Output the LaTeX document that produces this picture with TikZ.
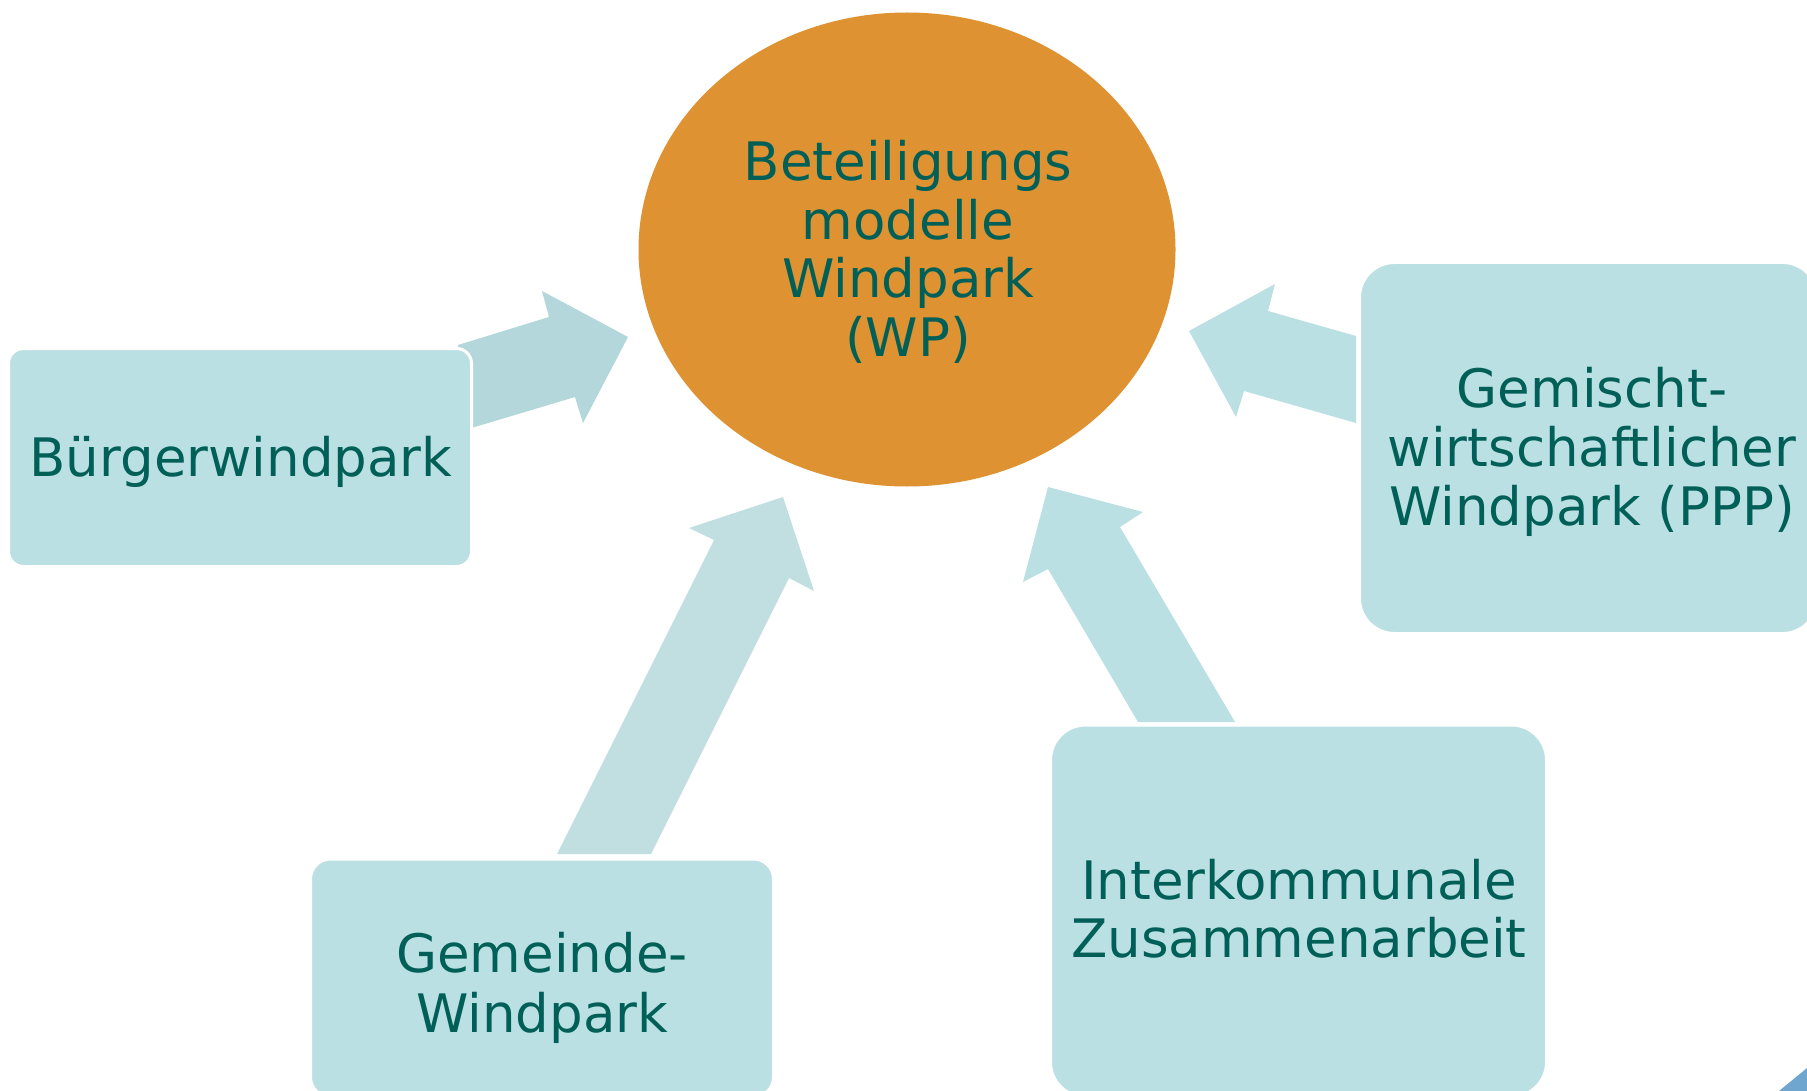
\documentclass[tikz,border=0pt]{standalone}
\usepackage{fontspec}
\setmainfont{DejaVu Sans}
\usetikzlibrary{shapes.geometric}
\definecolor{boxfill}{RGB}{187,224,227}
\definecolor{txt}{RGB}{0,96,88}
\definecolor{orangefill}{RGB}{222,146,50}
\definecolor{arrowA}{RGB}{179,215,219}
\definecolor{arrowB}{RGB}{193,223,225}
\definecolor{cornerblue}{RGB}{111,166,208}
\begin{document}
\begin{tikzpicture}[x=1pt,y=-1pt,
  boxstyle/.style={rectangle,fill=boxfill,draw=white,line width=3pt,inner sep=0pt},
  labelstyle/.style={text=txt,align=center,inner sep=0pt,font=\fontsize{53}{59}\selectfont}]
\useasboundingbox (0,0) rectangle (1807,1091);
\clip (0,0) rectangle (1807,1091);
\fill[white] (0,0) rectangle (1807,1091);

% centre ellipse
\node[ellipse,fill=orangefill,minimum width=537pt,minimum height=474pt,inner sep=0pt] (wp) at (907,249.5) {};
\node[labelstyle,font=\fontsize{53}{58.5}\selectfont] (wplabel) at (908,252) {Beteiligungs\\modelle\\Windpark\\(WP)};

% block arrows (drawn below the boxes)
\fill[arrowA] (458,345) -- (549,317) -- (542,291) -- (628,337) -- (583,423) -- (575,397) -- (458,432) -- cycle;
\fill[arrowB] (557,854) -- (714,540) -- (689,528) -- (783,497) -- (814,591) -- (789,578) -- (651,854) -- cycle;
\fill[boxfill] (1138,722) -- (1048,569) -- (1023,582) -- (1048,487) -- (1143,512) -- (1120,527) -- (1235,722) -- cycle;
\fill[boxfill] (1356,336) -- (1268,311) -- (1275,284) -- (1189,331) -- (1236,417) -- (1244,391) -- (1356,423) -- cycle;

% boxes
\node[boxstyle,rounded corners=15pt,minimum width=463pt,minimum height=218pt] (buerger) at (240,457.5) {};
\node[labelstyle] (buergerlabel) at (241,461.7) {Bürgerwindpark};

\node[boxstyle,rounded corners=20pt,minimum width=463pt,minimum height=238pt] (gemeinde) at (542,978) {};
\node[labelstyle,font=\fontsize{53}{60}\selectfont] (gemeindelabel) at (542,988) {Gemeinde-\\Windpark};

\node[boxstyle,rounded corners=35pt,minimum width=496pt,minimum height=372pt] (inter) at (1298.5,911) {};
\node[labelstyle,font=\fontsize{53}{58}\selectfont] (interlabel) at (1299,909) {Interkommunale\\Zusammenarbeit};

\node[boxstyle,rounded corners=35pt,minimum width=458pt,minimum height=371pt] (ppp) at (1588.5,448) {};
\node[labelstyle] (ppplabel) at (1592,452) {Gemischt-\\wirtschaftlicher\\Windpark (PPP)};

% corner fragment
\fill[cornerblue] (1779,1091) -- (1807,1068) -- (1807,1091) -- cycle;
\end{tikzpicture}
\end{document}
